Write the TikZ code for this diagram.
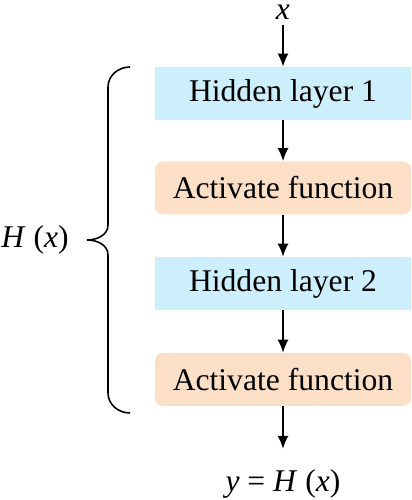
\documentclass[tikz,border=0pt]{standalone}
\usepackage{fontspec}
\setmainfont{Liberation Serif}
\usetikzlibrary{arrows.meta}

\definecolor{layerblue}{RGB}{204,239,251}
\definecolor{actorange}{RGB}{252,223,199}

\tikzset{
  layer/.style={fill=layerblue,minimum width=5.12cm,minimum height=1.06cm,inner sep=0pt},
  activ/.style={fill=actorange,rounded corners=0.16cm,minimum width=5.12cm,minimum height=1.06cm,inner sep=0pt},
  flow/.style={-{Latex[length=2.6mm,width=2.2mm]},line width=0.9pt}
}

\begin{document}
\begin{tikzpicture}[font=\fontsize{18}{22}\selectfont]
  \useasboundingbox (0,0) rectangle (8.22,10);

  \node[anchor=base,inner sep=0.1cm] (x) at (5.66,9.6) {\textit{x}};
  \node[layer] (h1) at (5.66,8.13) {Hidden layer 1};
  \node[activ] (a1) at (5.66,6.24) {Activate function};
  \node[layer] (h2) at (5.66,4.33) {Hidden layer 2};
  \node[activ] (a2) at (5.66,2.41) {Activate function};
  \node[anchor=base] (y) at (5.66,0.16) {\textit{y} = \textit{H} (\textit{x})};

  \draw[flow] (x) -- (h1);
  \draw[flow] (h1) -- (a1);
  \draw[flow] (a1) -- (h2);
  \draw[flow] (h2) -- (a2);
  \draw[flow,shorten >=0.3cm] (a2) -- (y);

  % brace round the hidden part
  \coordinate (tip) at (1.74,5.2);
  \draw[line width=0.9pt] (2.6,8.66) to[out=180,in=90] (2.16,8.26) -- (2.16,5.5)
    to[out=-90,in=0] (tip) to[out=0,in=90] (2.16,4.9) -- (2.16,2.14)
    to[out=-90,in=180] (2.6,1.74);
  \node (hx) at (0.7,5.2) {\textit{H} (\textit{x})};

\end{tikzpicture}
\end{document}
